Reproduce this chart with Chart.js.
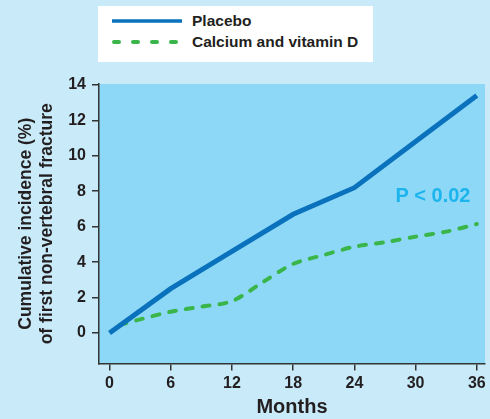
<!DOCTYPE html>
<html>
<head>
<meta charset="utf-8">
<script src="https://cdn.jsdelivr.net/npm/chart.js@4"></script>
<style>
  body { margin: 0; background: #c8eaf9; }
  #wrap { position: relative; width: 490px; height: 419px; }
  #legend { position: absolute; left: 98px; top: 6px; width: 275px; height: 56px; background: #fff; }
  #legend svg { position: absolute; left: 0; top: 0; }
  #legend span { position: absolute; left: 94px; font: bold 15.5px "Liberation Sans", Arial, sans-serif; color: #231f20; line-height: 18px; }
</style>
</head>
<body>
<div id="wrap">
  <canvas id="grafico" width="490" height="419"></canvas>
  <div id="legend">
    <svg width="275" height="56">
      <line x1="14" y1="15" x2="84" y2="15" stroke="#0a72bd" stroke-width="3.5"/>
      <line x1="16" y1="36" x2="80" y2="36" stroke="#3ab54a" stroke-width="4" stroke-linecap="round" stroke-dasharray="5 14"/>
    </svg>
    <span style="top:6px">Placebo</span>
    <span style="top:27px">Calcium and vitamin D</span>
  </div>
</div>
<script>
// dados
const meses = [0, 6, 12, 18, 24, 30, 36];
const placebo = [0, 2.5, 4.6, 6.7, 8.2, 10.8, 13.4];
const mesesCalcio = [1, 3, 6, 9, 12, 15, 18, 21, 24, 27, 30, 33, 36];
const calcio = [0.45, 0.77, 1.2, 1.49, 1.8, 2.86, 3.9, 4.4, 4.87, 5.12, 5.44, 5.72, 6.15];
const ticksY = [0, 2, 4, 6, 8, 10, 12, 14];

const fonte = "'Liberation Sans', Arial, sans-serif";
const escuro = "#231f20";

// fundo da área do gráfico
const fundoArea = {
  id: "fundoArea",
  beforeDraw(chart) {
    const { ctx, chartArea: a } = chart;
    ctx.save();
    ctx.fillStyle = "#8ed8f7";
    ctx.fillRect(a.left, a.top, a.right - a.left, a.bottom - a.top);
    ctx.restore();
  }
};

// texto "P < 0.02"
const textoP = {
  id: "textoP",
  afterDatasetsDraw(chart) {
    const { ctx, scales } = chart;
    ctx.save();
    ctx.font = "bold 20px " + fonte;
    ctx.fillStyle = "#1cb4ec";
    ctx.textAlign = "center";
    ctx.textBaseline = "middle";
    ctx.fillText("P < 0.02", scales.x.getPixelForValue(31.7), scales.y.getPixelForValue(7.7));
    ctx.restore();
  }
};

new Chart(document.getElementById("grafico"), {
  type: "line",
  data: {
    datasets: [{
      label: "Placebo",
      data: meses.map((m, i) => ({ x: m, y: placebo[i] })),
      borderColor: "#0a72bd",
      borderWidth: 5,
      pointRadius: 0,
      tension: 0
    }, {
      label: "Calcium and vitamin D",
      data: mesesCalcio.map((m, i) => ({ x: m, y: calcio[i] })),
      borderColor: "#3ab54a",
      borderWidth: 4,
      borderDash: [7, 10],
      borderCapStyle: "round",
      pointRadius: 0,
      tension: 0.3
    }]
  },
  options: {
    responsive: false,
    animation: false,
    layout: { padding: { top: 84, right: 5, left: 0, bottom: 0 } },
    plugins: { legend: { display: false }, tooltip: { enabled: false } },
    scales: {
      x: {
        type: "linear",
        min: -1.03,
        max: 36.8,
        afterBuildTicks: (s) => { s.ticks = meses.map(v => ({ value: v })); },
        afterFit: (s) => { s.height = 55.5; },
        grid: { drawOnChartArea: false, color: "#333", tickLength: 7, lineWidth: 1.5 },
        border: { color: "#333", width: 1.5 },
        ticks: { color: escuro, font: { family: fonte, size: 16, weight: "bold" }, padding: 3, maxRotation: 0 },
        title: { display: true, text: "Months", color: escuro, font: { family: fonte, size: 20, weight: "bold" }, padding: { top: 0, bottom: 0 } }
      },
      y: {
        min: -1.72,
        max: 14.05,
        afterBuildTicks: (s) => { s.ticks = ticksY.map(v => ({ value: v })); },
        afterFit: (s) => { s.width = 99; },
        grid: { drawOnChartArea: false, color: "#333", tickLength: 7, lineWidth: 1.5 },
        border: { color: "#333", width: 1.5 },
        ticks: { color: escuro, font: { family: fonte, size: 16, weight: "bold" }, padding: 6 },
        title: {
          display: true,
          text: ["Cumulative incidence (%)", "of first non-vertebral fracture"],
          color: escuro,
          font: { family: fonte, size: 17.5, weight: "bold", lineHeight: 1.22 },
          padding: { top: 15, bottom: 0 }
        }
      }
    }
  },
  plugins: [fundoArea, textoP]
});
</script>
</body>
</html>
